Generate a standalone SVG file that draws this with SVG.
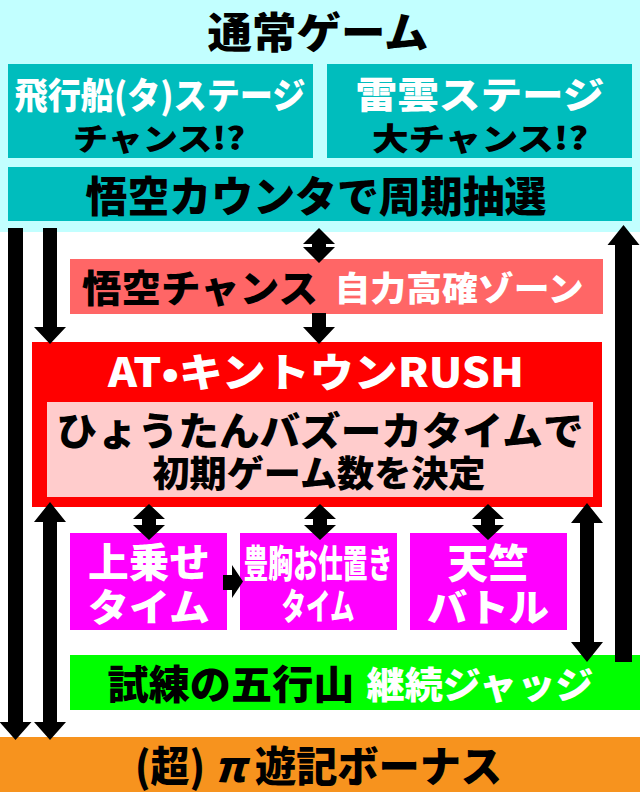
<svg xmlns="http://www.w3.org/2000/svg" width="640" height="792" viewBox="0 0 640 792">
<style>
text{font-family:"Noto Sans CJK JP","Noto Sans",sans-serif;font-weight:900;text-anchor:middle;dominant-baseline:central}
.w{fill:#fff}
.b{fill:#000}
.teal{fill:#00bdbd}
.arr{fill:#000}
</style>
<rect x="0" y="0" width="640" height="792" fill="#fff"/>
<g id="normal-game">
<rect x="0" y="0" width="640" height="232" fill="#c2ffff"/>
<text class="b" x="318" y="29" font-size="42" textLength="221" lengthAdjust="spacingAndGlyphs">通常ゲーム</text>
</g>
<g id="airship-stage">
<rect class="teal" x="8" y="64" width="305" height="94"/>
<text class="w" font-size="36"><tspan x="160" y="93" textLength="291" lengthAdjust="spacingAndGlyphs">飛行船(タ)ステージ</tspan><tspan class="b" x="159" y="136" font-size="31" textLength="172" lengthAdjust="spacingAndGlyphs">チャンス!?</tspan></text>
</g>
<g id="thunder-stage">
<rect class="teal" x="327" y="64" width="305" height="94"/>
<text class="w" font-size="37"><tspan x="480" y="93" textLength="249" lengthAdjust="spacingAndGlyphs">雷雲ステージ</tspan><tspan class="b" x="480" y="136" font-size="31" textLength="216" lengthAdjust="spacingAndGlyphs">大チャンス!?</tspan></text>
</g>
<g id="goku-counter">
<rect class="teal" x="8" y="167" width="624" height="54"/>
<text class="b" x="316" y="193" font-size="42" textLength="461" lengthAdjust="spacingAndGlyphs">悟空カウンタで周期抽選</text>
</g>
<g id="goku-chance">
<rect x="70" y="259" width="533" height="55" fill="#ff6666"/>
<text class="b" x="200" y="285" font-size="38" textLength="236" lengthAdjust="spacingAndGlyphs">悟空チャンス</text>
<text class="w" x="459" y="286" font-size="34" textLength="249" lengthAdjust="spacingAndGlyphs">自力高確ゾーン</text>
</g>
<g id="at-kintoun-rush">
<rect x="32" y="342" width="570" height="165" fill="#ff0000"/>
<rect x="47" y="402" width="546" height="95" fill="#ffcccc"/>
<text class="w" x="316" y="370" font-size="40" textLength="416" lengthAdjust="spacingAndGlyphs">AT•キントウンRUSH</text>
<text class="b" font-size="39"><tspan x="320" y="428" textLength="527" lengthAdjust="spacingAndGlyphs">ひょうたんバズーカタイムで</tspan><tspan x="319" y="471" font-size="36" textLength="333" lengthAdjust="spacingAndGlyphs">初期ゲーム数を決定</tspan></text>
</g>
<g id="uwanose-time">
<rect x="70" y="533" width="157" height="97" fill="#ff00ff"/>
<text class="w" font-size="40"><tspan x="149" y="560" textLength="122" lengthAdjust="spacingAndGlyphs">上乗せ</tspan><tspan x="149" y="604" font-size="38" textLength="122" lengthAdjust="spacingAndGlyphs">タイム</tspan></text>
</g>
<g id="hokyo-time">
<rect x="240" y="533" width="157" height="97" fill="#ff00ff"/>
<text class="w" font-size="38"><tspan x="318" y="560" textLength="149" lengthAdjust="spacingAndGlyphs">豊胸お仕置き</tspan><tspan x="318" y="604" font-size="36" textLength="73" lengthAdjust="spacingAndGlyphs">タイム</tspan></text>
</g>
<g id="tenjiku-battle">
<rect x="410" y="533" width="157" height="97" fill="#ff00ff"/>
<text class="w" font-size="40"><tspan x="488" y="561" textLength="81" lengthAdjust="spacingAndGlyphs">天竺</tspan><tspan x="488" y="604" font-size="38" textLength="122" lengthAdjust="spacingAndGlyphs">バトル</tspan></text>
</g>
<g id="gogyozan">
<rect x="70" y="655" width="570" height="55" fill="#00ff00"/>
<text class="b" x="231" y="682" font-size="40" textLength="247" lengthAdjust="spacingAndGlyphs">試練の五行山</text>
<text class="w" x="480" y="683" font-size="37" textLength="227" lengthAdjust="spacingAndGlyphs">継続ジャッジ</text>
</g>
<g id="bonus">
<rect x="0" y="737" width="640" height="55" fill="#f7931e"/>
<text class="b" x="170" y="763" font-size="42" textLength="70" lengthAdjust="spacingAndGlyphs">(超)</text>
<text class="b" x="230" y="763" font-size="42" font-style="italic">π</text>
<text class="b" x="378.5" y="763" font-size="42" textLength="247" lengthAdjust="spacingAndGlyphs">遊記ボーナス</text>
</g>
<g id="connectors" class="arr">
<polygon points="8,228 23,228 23,722 31.5,722 15.5,740 -0.5,722 8,722"/>
<polygon points="43,228 57,228 57,327 66,327 50,344 34,327 43,327"/>
<polygon points="50,502 66,522 57,522 57,722 66,722 50,740 34,722 43,722 43,522 34,522"/>
<polygon points="319,228 335,244 326,244 326,247 335,247 319,263 303,247 312,247 312,244 303,244"/>
<polygon points="312,313 326,313 326,327 335,327 319,344 303,327 312,327"/>
<polygon points="149,504 165,519 156,519 156,525 165,525 149,540 133,525 142,525 142,519 133,519"/>
<polygon points="320,504 336,519 327,519 327,525 336,525 320,540 304,525 313,525 313,519 304,519"/>
<polygon points="488,504 504,519 495,519 495,525 504,525 488,540 472,525 481,525 481,519 472,519"/>
<polygon points="223,575 232,575 232,565 243,581.5 232,598 232,590 223,590"/>
<polygon points="587,503 603,523 594,523 594,642 603,642 587,662 571,642 580,642 580,523 571,523"/>
<polygon points="623.5,225 639.5,245 632,245 632,662 615,662 615,245 607.5,245"/>
</g>
</svg>
